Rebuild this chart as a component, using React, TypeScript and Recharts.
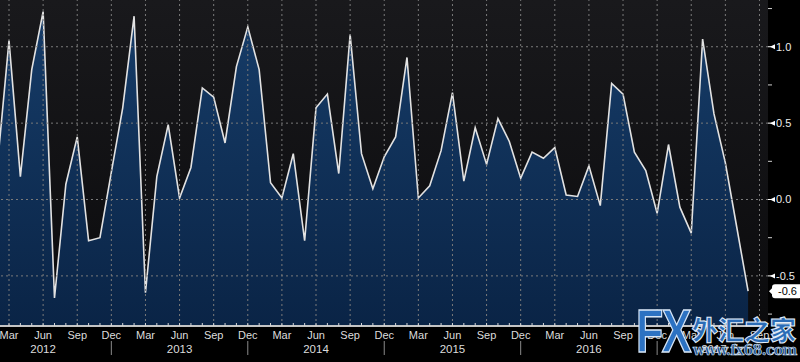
import React from 'react';
import { ComposedChart, Area, XAxis, YAxis, CartesianGrid, ReferenceLine } from 'recharts';

// Monthly series, first value = Feb 2012
const START_YEAR = 2012;
const START_MONTH = 1; // 0-based, Feb
const values = [
  0.24, 1.04, 0.15, 0.85, 1.23, -0.645, 0.10, 0.41, -0.27, -0.25, 0.18,
  0.60, 1.20, -0.61, 0.15, 0.49, 0.01, 0.21, 0.73, 0.67, 0.37, 0.87, 1.13,
  0.85, 0.11, 0.01, 0.30, -0.27, 0.60, 0.69, 0.17, 1.08, 0.30, 0.07, 0.28,
  0.41, 0.93, 0.01, 0.09, 0.32, 0.70, 0.12, 0.47, 0.23, 0.53, 0.38, 0.14,
  0.31, 0.27, 0.34, 0.03, 0.02, 0.22, -0.04, 0.76, 0.69, 0.31, 0.19, -0.09,
  0.36, -0.05, -0.22, 1.05, 0.56, 0.24, -0.18, -0.60,
];
const monthNames = ['Jan', 'Feb', 'Mar', 'Apr', 'May', 'Jun', 'Jul', 'Aug', 'Sep', 'Oct', 'Nov', 'Dec'];
const quarterMonths = ['Mar', 'Jun', 'Sep', 'Dec'];
const yMajorTicks = [-0.5, 0, 0.5, 1.0];
const yAllTicks = [-0.75, -0.5, -0.25, 0, 0.25, 0.5, 0.75, 1.0, 1.25];
const Y_DOMAIN: [number, number] = [-0.828, 1.306];
const X_DOMAIN: [number, number] = [0.208, 67.75];

const data = values.map((v, i) => ({ i, v }));
const lastIndex = values.length - 1;
const lastValue = values[lastIndex];

const monthOf = (idx: number) => {
  const abs = START_MONTH + idx;
  return { m: ((abs % 12) + 12) % 12, yr: START_YEAR + Math.floor(abs / 12) };
};

const xTicks: number[] = [];
for (let k = Math.ceil(X_DOMAIN[0]); k <= Math.floor(X_DOMAIN[1]); k++) xTicks.push(k);
const quarterTicks = xTicks.filter((k) => quarterMonths.includes(monthNames[monthOf(k).m]));

const FONT = '"Liberation Sans", Arial, sans-serif';

const XTick = (props: any) => {
  const { x, y, payload } = props;
  const idx = payload.value as number;
  const { m, yr } = monthOf(idx);
  const name = monthNames[m];
  const isQuarter = quarterMonths.includes(name);
  const lastYear = monthOf(lastIndex).yr;
  let yearLabel = false;
  if (yr < lastYear && m === 5) yearLabel = true;
  if (yr === lastYear) {
    const firstIdx = idx - m;
    const mid = Math.ceil((firstIdx + lastIndex) / 2);
    if (idx === mid) yearLabel = true;
  }
  return (
    <g>
      <line x1={x} x2={x} y1={y - 3} y2={y} stroke="#d8d8d8" strokeWidth={1} />
      {isQuarter && (
        <text x={x} y={y + 9} dy="0.35em" textAnchor="middle" fill="#dcdcdc" fontSize={11} fontFamily={FONT}>
          {name}
        </text>
      )}
      {yearLabel && (
        <text x={x} y={y + 23} dy="0.35em" textAnchor="middle" fill="#dcdcdc" fontSize={11.5} fontFamily={FONT}>
          {yr}
        </text>
      )}
      {name === 'Dec' && <line x1={x} x2={x} y1={y + 15} y2={y + 29} stroke="#8a8a8a" strokeWidth={1} />}
    </g>
  );
};

const YTick = (props: any) => {
  const { x, y, payload } = props;
  const v = payload.value as number;
  const major = yMajorTicks.some((t) => Math.abs(t - v) < 1e-6);
  if (!major) {
    return <line x1={x} x2={x + 4} y1={y} y2={y} stroke="#d0d0d0" strokeWidth={1} />;
  }
  return (
    <g>
      <line x1={x} x2={x + 4} y1={y} y2={y} stroke="#ffffff" strokeWidth={1} />
      <path d={`M${x + 2} ${y} L${x + 7} ${y - 2.5} L${x + 7} ${y + 2.5} Z`} fill="#ffffff" />
      <text x={x + 8} y={y} dy="0.35em" textAnchor="start" fill="#ececec" fontSize={11} fontFamily={FONT}>
        {v.toFixed(1)}
      </text>
    </g>
  );
};

const LastLabel = (props: any) => {
  const vb = props.viewBox || {};
  const x0 = vb.x + vb.width;
  const cy = vb.y;
  return (
    <g>
      <path d={`M${x0 + 1} ${cy} L${x0 + 5} ${cy - 4} L${x0 + 5} ${cy + 4} Z`} fill="#ffffff" />
      <rect x={x0 + 4} y={cy - 7} width={30} height={14} rx={3} fill="#ffffff" />
      <text x={x0 + 10} y={cy} dy="0.35em" fill="#000000" fontSize={11} fontFamily={FONT}>
        {lastValue.toFixed(1)}
      </text>
    </g>
  );
};

export default function App() {
  return (
    <div style={{ position: 'absolute', left: 0, top: 0, width: 800, height: 362, background: '#000', overflow: 'hidden' }}>
      <ComposedChart width={800} height={362} data={data} margin={{ top: 0, right: 0, bottom: 0, left: 0 }}>
        <defs>
          <linearGradient id="plotBg" x1="0" y1="0" x2="0" y2="1">
            <stop offset="0%" stopColor="#19191c" />
            <stop offset="100%" stopColor="#0b0b0d" />
          </linearGradient>
          <linearGradient id="areaFill" x1="0" y1="0" x2="0" y2="1">
            <stop offset="0%" stopColor="#163c68" />
            <stop offset="100%" stopColor="#0a2446" />
          </linearGradient>
        </defs>
        <CartesianGrid horizontal={false} vertical={false} fill="url(#plotBg)" stroke="none" />
        <XAxis
          dataKey="i"
          type="number"
          domain={X_DOMAIN}
          allowDataOverflow
          ticks={xTicks}
          interval={0}
          height={36}
          tickSize={0}
          tickMargin={0}
          tickLine={false}
          axisLine={{ stroke: '#c4c4c4', strokeWidth: 2 }}
          tick={<XTick />}
        />
        <YAxis
          orientation="right"
          type="number"
          domain={Y_DOMAIN}
          allowDataOverflow
          ticks={yAllTicks}
          interval={0}
          width={32}
          tickSize={0}
          tickMargin={0}
          tickLine={false}
          axisLine={false}
          tick={<YTick />}
        />
        <Area
          type="linear"
          dataKey="v"
          baseValue={Y_DOMAIN[0]}
          stroke="#e2e2e2"
          strokeWidth={1.6}
          fill="url(#areaFill)"
          fillOpacity={1}
          isAnimationActive={false}
          dot={false}
          activeDot={false}
        />
        {quarterTicks.map((k) => (
          <ReferenceLine key={'vx' + k} x={k} stroke="#7a7a7a" strokeDasharray="2 3" strokeWidth={1} />
        ))}
        {yMajorTicks.map((t) => (
          <ReferenceLine key={'hy' + t} y={t} stroke="#7a7a7a" strokeDasharray="2 3" strokeWidth={1} />
        ))}
        <ReferenceLine y={lastValue} stroke="none" label={<LastLabel />} />
      </ComposedChart>
      <div style={{ position: 'absolute', left: 636, top: 300, height: 62, pointerEvents: 'none' }}>
        <span
          style={{
            position: 'absolute', left: 0, top: 0, fontFamily: FONT, fontWeight: 900, fontSize: 62,
            lineHeight: '62px', color: '#2c72c2', WebkitTextStroke: '1.5px #d7e6f7',
            transform: 'scaleX(0.72)', transformOrigin: 'left top', letterSpacing: -2,
          }}
        >
          FX
        </span>
      </div>
      <div
        style={{
          position: 'absolute', left: 692, top: 314, fontFamily: '"Noto Sans CJK SC", sans-serif', fontWeight: 900,
          fontSize: 26, lineHeight: '30px', color: '#2b6cb6', WebkitTextStroke: '1px #e4eefa', whiteSpace: 'nowrap',
        }}
      >
        外汇之家
      </div>
      <div
        style={{
          position: 'absolute', left: 693, top: 341, fontFamily: '"DejaVu Serif", serif', fontWeight: 700,
          fontSize: 14, lineHeight: '18px', color: '#1d4f92', WebkitTextStroke: '0.6px #dfe9f6', whiteSpace: 'nowrap',
          letterSpacing: -0.6,
        }}
      >
        www.fx68.com
      </div>
    </div>
  );
}
